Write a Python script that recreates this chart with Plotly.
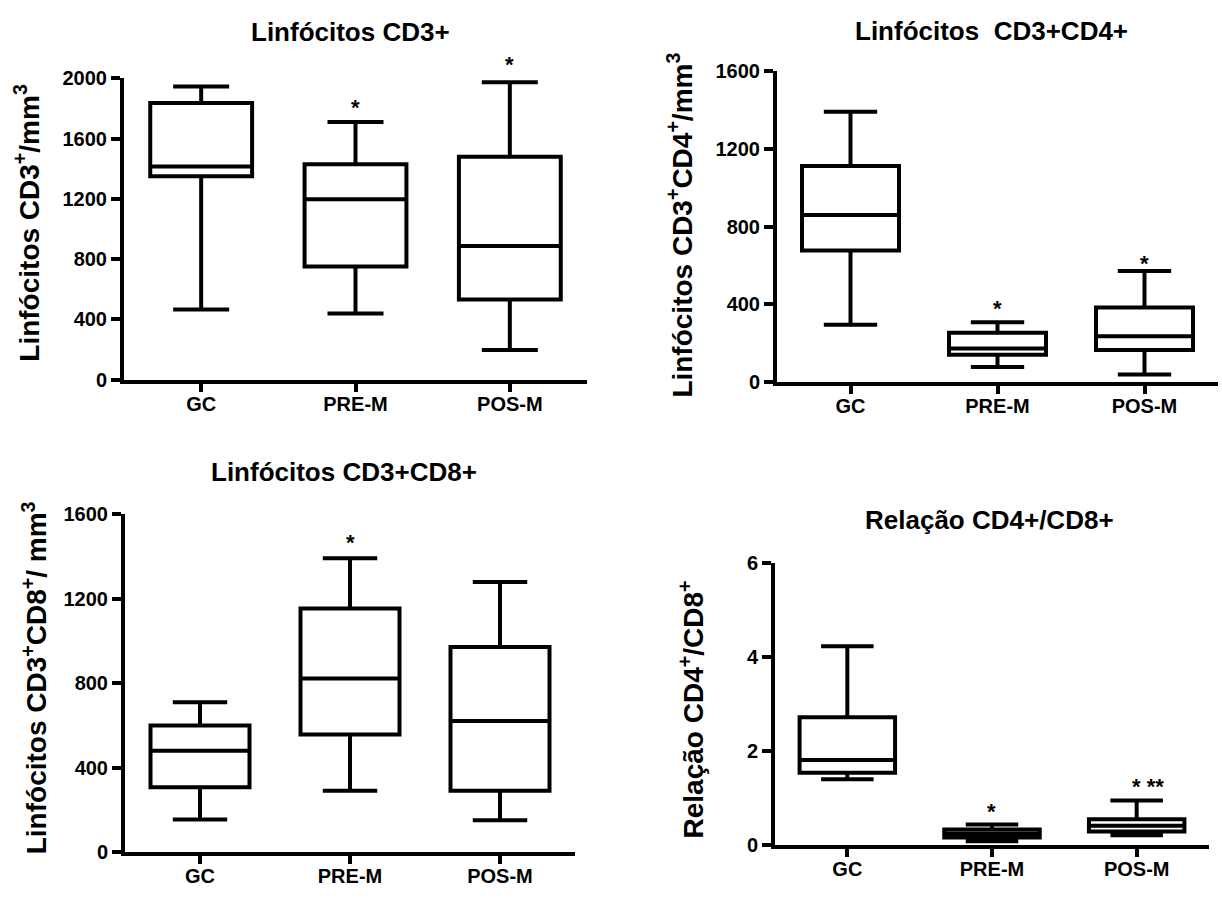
import plotly.graph_objects as go

# ---------------- data ----------------
groups = ["GC", "PRE-M", "POS-M"]

cd3_min = [466, 440, 197]
cd3_q1 = [1350, 752, 533]
cd3_med = [1415, 1198, 888]
cd3_q3 = [1837, 1430, 1480]
cd3_max = [1946, 1710, 1974]
cd3_sig = ["", "*", "*"]

cd4_min = [294, 76, 37]
cd4_q1 = [677, 139, 163]
cd4_med = [860, 171, 235]
cd4_q3 = [1113, 252, 383]
cd4_max = [1392, 307, 571]
cd4_sig = ["", "*", "*"]

cd8_min = [154, 290, 150]
cd8_q1 = [306, 556, 290]
cd8_med = [479, 822, 621]
cd8_q3 = [599, 1154, 971]
cd8_max = [709, 1392, 1280]
cd8_sig = ["", "*", ""]

rat_min = [1.40, 0.08, 0.21]
rat_q1 = [1.54, 0.16, 0.29]
rat_med = [1.81, 0.24, 0.41]
rat_q3 = [2.72, 0.33, 0.55]
rat_max = [4.23, 0.44, 0.95]
rat_sig = ["", "*", "* **"]

titles = ["Linfócitos CD3+", "Linfócitos  CD3+CD4+", "Linfócitos CD3+CD8+", "Relação CD4+/CD8+"]
ytitles = [
    "Linfócitos CD3<sup>+</sup>/mm<sup>3</sup>",
    "Linfócitos CD3<sup>+</sup>CD4<sup>+</sup>/mm<sup>3</sup>",
    "Linfócitos CD3<sup>+</sup>CD8<sup>+</sup>/ mm<sup>3</sup>",
    "Relação CD4<sup>+</sup>/CD8<sup>+</sup>",
]
yticks = [[0, 400, 800, 1200, 1600, 2000], [0, 400, 800, 1200, 1600],
          [0, 400, 800, 1200, 1600], [0, 2, 4, 6]]

# ---------------- layout geometry (pixels) ----------------
W, H = 1222, 899
FONT = "Arial, 'Liberation Sans', sans-serif"

panels = [
    dict(stats=(cd3_min, cd3_q1, cd3_med, cd3_q3, cd3_max), sig=cd3_sig,
         xpx=(124, 587), ypx=(69, 378), ymax=2000,
         tpos=(350, 22), ytpos=(27, 217), sigshift=[0, 13, 16], sigx=[0, 0, 0]),
    dict(stats=(cd4_min, cd4_q1, cd4_med, cd4_q3, cd4_max), sig=cd4_sig,
         xpx=(777, 1218), ypx=(62, 380), ymax=1600,
         tpos=(991, 20), ytpos=(680, 220), sigshift=[0, 12, 6], sigx=[0, 0, 0]),
    dict(stats=(cd8_min, cd8_q1, cd8_med, cd8_q3, cd8_max), sig=cd8_sig,
         xpx=(125, 575), ypx=(516, 862), ymax=1600,
         tpos=(344, 473), ytpos=(35, 684), sigshift=[0, 14, 0], sigx=[0, 0, 0]),
    dict(stats=(rat_min, rat_q1, rat_med, rat_q3, rat_max), sig=rat_sig,
         xpx=(775, 1209), ypx=(566, 855), ymax=6,
         tpos=(989, 522), ytpos=(692, 716), sigshift=[0, 11, 12], sigx=[0, 0, 11]),
]

fig = go.Figure()
annotations = []

for i, p in enumerate(panels):
    n = "" if i == 0 else str(i + 1)
    xa, ya = "x" + n, "y" + n
    mn, q1, md, q3, mx = p["stats"]
    fig.add_trace(go.Box(
        x=groups, q1=q1, median=md, q3=q3, lowerfence=mn, upperfence=mx,
        xaxis=xa, yaxis=ya, width=0.66, whiskerwidth=0.55,
        fillcolor="white", line=dict(color="black", width=4),
        boxpoints=False, hoverinfo="skip", showlegend=False,
    ))
    x0, x1 = p["xpx"]
    yt, yb = p["ypx"]
    axcommon = dict(showline=True, linecolor="black", linewidth=4, showgrid=False,
                    zeroline=False, ticks="outside", tickcolor="black", tickwidth=4,
                    tickfont=dict(family=FONT, size=20, color="black", weight="bold"))
    fig.layout["xaxis" + n] = dict(
        domain=[x0 / W, x1 / W], anchor=ya, type="category",
        categoryorder="array", categoryarray=groups, range=[-0.5, 2.5],
        ticklen=8, ticklabelstandoff=-5, fixedrange=True, **axcommon)
    fig.layout["yaxis" + n] = dict(
        domain=[1 - yb / H, 1 - yt / H], anchor=xa, range=[0, p["ymax"]],
        tickmode="array", tickvals=yticks[i], ticklen=9, fixedrange=True, **axcommon)

    # panel title
    annotations.append(dict(
        text=titles[i], xref="paper", yref="paper",
        x=p["tpos"][0] / W, y=1 - p["tpos"][1] / H,
        xanchor="center", yanchor="middle", showarrow=False,
        font=dict(family=FONT, size=26, color="black", weight="bold")))
    # y axis title
    annotations.append(dict(
        text=ytitles[i], xref="paper", yref="paper",
        x=p["ytpos"][0] / W, y=1 - p["ytpos"][1] / H, textangle=-90,
        xanchor="center", yanchor="middle", showarrow=False,
        font=dict(family=FONT, size=28, color="black", weight="bold")))
    # significance marks
    for j, g in enumerate(groups):
        if p["sig"][j]:
            annotations.append(dict(
                text=p["sig"][j], xref=xa, yref=ya, x=g, y=mx[j],
                xanchor="center", yanchor="bottom", showarrow=False,
                yshift=p["sigshift"][j] - 13, xshift=p["sigx"][j],
                font=dict(family=FONT, size=22, color="black", weight="bold")))

fig.update_layout(
    width=W, height=H, margin=dict(l=0, r=0, t=0, b=0),
    paper_bgcolor="white", plot_bgcolor="white",
    annotations=annotations, showlegend=False,
)

fig.write_html("out.html")
